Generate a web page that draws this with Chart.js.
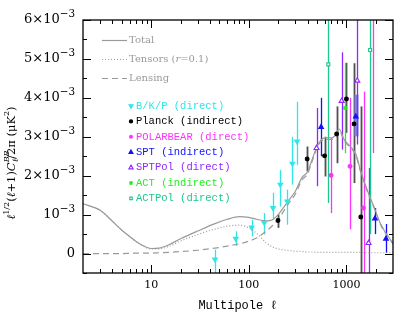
<!DOCTYPE html>
<html>
<head>
<meta charset="utf-8">
<script src="https://cdn.jsdelivr.net/npm/chart.js@4.4.1/dist/chart.umd.min.js"></script>
<style>
  html, body { margin: 0; padding: 0; background: #fff; }
  #wrap { width: 415px; height: 324px; position: relative; }
</style>
</head>
<body>
<div id="wrap"><canvas id="bbChart"></canvas></div>
<script>
// All BB power values are in units of 10^-3 muK^2.

// Model spectra.
const modelEll  = [2, 3, 4, 5, 6, 7, 8, 10, 12, 15, 20, 30, 45, 60, 80, 100, 120, 150, 175, 200, 250, 300, 350, 400, 450, 500, 550, 600, 700, 760, 840, 950, 1100, 1250, 1400, 1650, 1900, 2250, 3000];
const totalBB   = [1.28, 1.11, 0.83, 0.60, 0.44, 0.31, 0.22, 0.13, 0.14, 0.22, 0.38, 0.58, 0.77, 0.88, 0.95, 0.93, 0.88, 0.84, 0.87, 1.00, 1.33, 1.60, 1.95, 2.10, 2.45, 2.75, 2.92, 2.97, 2.97, 3.02, 3.20, 2.92, 2.75, 2.55, 2.12, 1.60, 1.22, 0.75, 0.26];
const tensorBB  = [1.28, 1.11, 0.83, 0.60, 0.44, 0.31, 0.21, 0.12, 0.12, 0.18, 0.32, 0.49, 0.63, 0.70, 0.73, 0.66, 0.52, 0.28, 0.17, 0.12, 0.08, 0.06, 0.05, 0.04, 0.04, 0.03, 0.03, 0.03, 0.03, 0.03, 0.03, 0.03, 0.03, 0.03, 0.03, 0.02, 0.02, 0.02, 0.02];
const lensingBB = [0, 0, 0, 0, 0.005, 0.01, 0.01, 0.01, 0.02, 0.03, 0.05, 0.085, 0.14, 0.19, 0.25, 0.32, 0.40, 0.57, 0.72, 0.88, 1.25, 1.53, 1.89, 2.05, 2.40, 2.71, 2.88, 2.93, 2.93, 2.99, 3.17, 2.89, 2.72, 2.52, 2.09, 1.57, 1.20, 0.73, 0.24];

// Measurements: multipole, value, lower and upper end of the error bar.
const bkpEll = [45, 73.5, 107, 144, 177, 210, 247, 279, 312];
const bkpVal = [-0.15, 0.38, 0.67, 0.79, 1.17, 1.77, 1.34, 2.31, 2.88];
const bkpLo  = [-0.55, 0.19, 0.44, 0.49, 0.87, 1.21, 0.74, 1.77, 2.28];
const bkpHi  = [0.10, 0.57, 0.87, 1.04, 1.56, 2.15, 1.64, 3.00, 3.90];

const planckEll = [199, 396, 597, 794, 1000, 1197, 1403];
const planckVal = [0.85, 2.43, 2.51, 3.07, 3.97, 3.33, 0.94];
const planckLo  = [0.66, 2.11, 1.98, 2.32, 3.10, 1.81, -1.0];
const planckHi  = [1.00, 2.75, 3.00, 3.78, 4.90, 4.89, 3.78];

const polarbearEll = [697, 1089, 1496, 1888];
const polarbearVal = [2.01, 2.24, 1.17, 7.0];
const polarbearLo  = [1.04, 0.62, -1.0, 2.58];
const polarbearHi  = [2.97, 4.00, 4.16, 10.0];

const sptEll = [550, 1247, 1958, 2541];
const sptVal = [3.25, 3.52, 0.90, 0.38];
const sptLo  = [2.50, 3.01, 0.50, 0.02];
const sptHi  = [4.00, 4.08, 1.17, 0.76];

const sptpolEll = [494, 893, 1291, 1686];
const sptpolVal = [2.71, 3.92, 4.44, 0.27];
const sptpolLo  = [1.73, 2.67, 2.80, -1.0];
const sptpolHi  = [3.74, 5.17, 7.00, 2.20];

const actEll = [968];
const actVal = [3.74];
const actLo  = [2.58];
const actHi  = [4.89];

const actpolEll = [652, 1749];
const actpolVal = [4.86, 5.23];
const actpolLo  = [1.30, 0.50];
const actpolHi  = [8.0, 8.0];

// Axis ticks
const xMajor = [10, 100, 1000];
const xMinor = [3, 4, 5, 6, 7, 8, 9, 20, 30, 40, 50, 60, 70, 80, 90, 200, 300, 400, 500, 600, 700, 800, 900, 2000];
const yMajor = [0, 1, 2, 3, 4, 5, 6];
const yMinor = [-0.5, 0.5, 1.5, 2.5, 3.5, 4.5, 5.5];

const GREY = '#9a9a9a';

function points(ell, val, lo, hi) {
  return ell.map((l, i) => ({ x: l, y: val[i], lo: lo[i], hi: hi[i] }));
}
function curve(vals) {
  return modelEll.map((l, i) => ({ x: l, y: vals[i] }));
}

const experiments = [
  { label: 'B/K/P (direct)', color: '#2ee6ea', data: points(bkpEll, bkpVal, bkpLo, bkpHi),
    pointStyle: 'triangle', rotation: 180, radius: 2.7, fill: true },
  { label: 'Planck (indirect)', color: '#000000', barColor: '#505050', barWidth: 1.8,
    data: points(planckEll, planckVal, planckLo, planckHi),
    pointStyle: 'circle', rotation: 0, radius: 1.9, fill: true },
  { label: 'POLARBEAR (direct)', color: '#ff33ff', data: points(polarbearEll, polarbearVal, polarbearLo, polarbearHi),
    pointStyle: 'star', rotation: 0, radius: 2.4, fill: true },
  { label: 'SPT (indirect)', color: '#1010ff', data: points(sptEll, sptVal, sptLo, sptHi),
    pointStyle: 'triangle', rotation: 0, radius: 2.7, fill: true,
    barColors: ['#1010ff', '#8080ee', '#1010ff', '#1010ff'], barWidths: [1.3, 4, 1.3, 1.3] },
  { label: 'SPTPol (direct)', color: '#9326ff', data: points(sptpolEll, sptpolVal, sptpolLo, sptpolHi),
    pointStyle: 'triangle', rotation: 0, radius: 2.9, fill: false },
  { label: 'ACT (indirect)', color: '#22ee22', data: points(actEll, actVal, actLo, actHi),
    pointStyle: 'rect', rotation: 0, radius: 1.8, fill: true },
  { label: 'ACTPol (direct)', color: '#1cc98c', data: points(actpolEll, actpolVal, actpolLo, actpolHi),
    pointStyle: 'rect', rotation: 0, radius: 2.1, fill: false }
];

// Vertical error bars, drawn below the markers and clipped to the plot box.
const errorBars = {
  id: 'errorBars',
  beforeDatasetsDraw(chart) {
    const { ctx, chartArea: a, scales: { x, y } } = chart;
    ctx.save();
    ctx.beginPath();
    ctx.rect(a.left, a.top, a.right - a.left, a.bottom - a.top);
    ctx.clip();
    chart.data.datasets.forEach(ds => {
      if (!ds.errorBars) return;
      ds.data.forEach((p, i) => {
        const px = Math.round(x.getPixelForValue(p.x)) + 0.5;
        ctx.strokeStyle = (ds.barColors && ds.barColors[i]) || ds.barColor || ds.borderColor;
        ctx.lineWidth = (ds.barWidths && ds.barWidths[i]) || ds.barWidth || 1.3;
        ctx.beginPath();
        ctx.moveTo(px, y.getPixelForValue(p.lo));
        ctx.lineTo(px, y.getPixelForValue(p.hi));
        ctx.stroke();
      });
    });
    ctx.restore();
  }
};

// Draw a run of text pieces: n = normal, i = italic, sup / sub.
function pieceFont(p, size, family, supScale) {
  const small = p.k === 'sup' || p.k === 'sub';
  return (p.k === 'i' || p.it ? 'italic ' : '') + (small ? size * supScale : size) + 'px ' + family;
}
function drawRich(ctx, parts, x, y, align, size, family, supScale) {
  supScale = supScale || 0.7;
  let w = 0;
  parts.forEach(p => {
    ctx.font = pieceFont(p, size, family, supScale);
    if (!p.stack) w += ctx.measureText(p.t).width;
  });
  let cx = x;
  if (align === 'center') cx = x - w / 2;
  if (align === 'right') cx = x - w;
  ctx.textBaseline = 'middle';
  ctx.textAlign = 'left';
  parts.forEach(p => {
    ctx.font = pieceFont(p, size, family, supScale);
    let dy = 0;
    if (p.k === 'sup') dy = -size * 0.42;
    if (p.k === 'sub') dy = size * 0.3;
    ctx.fillText(p.t, cx, y + dy);
    if (!p.stack) cx += ctx.measureText(p.t).width;
  });
}

// Frame, inward ticks on all four sides, tick labels, titles and legend.
const axesAndLegend = {
  id: 'axesAndLegend',
  afterDatasetsDraw(chart) {
    const { ctx, chartArea: a, scales: { x, y } } = chart;
    ctx.save();
    ctx.strokeStyle = '#000';
    ctx.lineWidth = 1;
    ctx.beginPath();
    const xt = (v, len) => {
      const px = Math.round(x.getPixelForValue(v)) + 0.5;
      ctx.moveTo(px, a.bottom); ctx.lineTo(px, a.bottom - len);
      ctx.moveTo(px, a.top); ctx.lineTo(px, a.top + len);
    };
    const yt = (v, len) => {
      const py = Math.round(y.getPixelForValue(v)) + 0.5;
      ctx.moveTo(a.left, py); ctx.lineTo(a.left + len, py);
      ctx.moveTo(a.right, py); ctx.lineTo(a.right - len, py);
    };
    xMinor.forEach(v => xt(v, 4));
    xMajor.forEach(v => xt(v, 8));
    yMinor.forEach(v => yt(v, 4));
    yMajor.forEach(v => yt(v, 8));
    ctx.stroke();
    ctx.lineWidth = 1.3;
    ctx.strokeRect(a.left, a.top, a.right - a.left, a.bottom - a.top);

    // tick labels
    ctx.fillStyle = '#000';
    const tickFam = '"DejaVu Serif"';
    xMajor.forEach(v => {
      drawRich(ctx, [{ t: String(v), k: 'n' }], x.getPixelForValue(v), a.bottom + 12, 'center', 11, tickFam);
    });
    yMajor.forEach(v => {
      let parts;
      if (v === 0) parts = [{ t: '0', k: 'n' }];
      else if (v === 1) parts = [{ t: '10', k: 'n' }, { t: '\u22123', k: 'sup' }];
      else parts = [{ t: v + '\u00d710', k: 'n' }, { t: '\u22123', k: 'sup' }];
      drawRich(ctx, parts, a.left - 8, y.getPixelForValue(v), 'right', 13, tickFam, 0.8);
    });

    // axis titles
    drawRich(ctx, [{ t: 'Multipole \u2113', k: 'n' }], (a.left + a.right) / 2, 306, 'center', 12, '"Liberation Mono"');
    ctx.save();
    ctx.translate(12, 163);
    ctx.rotate(-Math.PI / 2);
    drawRich(ctx, [
      { t: '\u2113', k: 'i' }, { t: '1/2', k: 'sup' }, { t: '(', k: 'n' }, { t: '\u2113', k: 'i' },
      { t: '+1)', k: 'n' }, { t: 'C', k: 'i' }, { t: 'BB', k: 'sup', it: true, stack: true },
      { t: '\u2113', k: 'sub', it: true }, { t: '/2\u03c0 (\u03bcK', k: 'n' }, { t: '2', k: 'sup' }, { t: ')', k: 'n' }
    ], 0, 0, 'center', 11.5, '"DejaVu Serif"');
    ctx.restore();

    // legend: model curves
    const lineRows = [
      { parts: [{ t: 'Total', k: 'n' }], dash: [] },
      { parts: [{ t: 'Tensors (', k: 'n' }, { t: 'r', k: 'i' }, { t: '=0.1)', k: 'n' }], dash: [1, 2] },
      { parts: [{ t: 'Lensing', k: 'n' }], dash: [6, 4] }
    ];
    lineRows.forEach((r, i) => {
      const ly = 40 + i * 19;
      ctx.strokeStyle = GREY;
      ctx.lineWidth = 1.2;
      ctx.setLineDash(r.dash);
      ctx.beginPath();
      ctx.moveTo(102, ly + 0.5); ctx.lineTo(127, ly + 0.5);
      ctx.stroke();
      ctx.setLineDash([]);
      ctx.fillStyle = GREY;
      drawRich(ctx, r.parts, 129, ly, 'left', 10, '"DejaVu Serif"');
    });

    // legend: experiments
    experiments.forEach((e, i) => {
      const ly = 106 + i * 15.4;
      ctx.fillStyle = e.fill ? e.color : '#fff';
      ctx.strokeStyle = e.color;
      ctx.lineWidth = 1.1;
      Chart.helpers.drawPoint(ctx, { pointStyle: e.pointStyle, rotation: e.rotation, radius: e.radius * 0.85, borderWidth: 1.1 }, 131, ly);
      ctx.fillStyle = e.color;
      drawRich(ctx, [{ t: e.label, k: 'n' }], 136, ly, 'left', 10.5, '"Liberation Mono"');
    });
    ctx.restore();
  }
};

const datasets = experiments.map(e => ({
  type: 'scatter',
  label: e.label,
  data: e.data,
  errorBars: true,
  barColor: e.barColor,
  barWidth: e.barWidth,
  barColors: e.barColors,
  barWidths: e.barWidths,
  borderColor: e.color,
  backgroundColor: e.fill ? e.color : '#ffffff',
  pointStyle: e.pointStyle,
  rotation: e.rotation,
  pointRadius: e.radius,
  pointBorderWidth: e.pointStyle === 'star' ? 1.6 : 1.1,
  clip: 0
}));
datasets.push(
  { type: 'line', label: 'Total', data: curve(totalBB), borderColor: GREY, borderWidth: 1.2,
    pointRadius: 0, cubicInterpolationMode: 'monotone', clip: 0 },
  { type: 'line', label: 'Tensors', data: curve(tensorBB), borderColor: GREY, borderWidth: 1.2,
    borderDash: [1, 2], pointRadius: 0, cubicInterpolationMode: 'monotone', clip: 0 },
  { type: 'line', label: 'Lensing', data: curve(lensingBB), borderColor: GREY, borderWidth: 1.2,
    borderDash: [6, 4], pointRadius: 0, cubicInterpolationMode: 'monotone', clip: 0 }
);

new Chart(document.getElementById('bbChart'), {
  data: { datasets: datasets },
  options: {
    responsive: true,
    maintainAspectRatio: false,
    animation: false,
    events: [],
    layout: { padding: { top: 20, right: 22, left: 0, bottom: 0 } },
    plugins: { legend: { display: false }, tooltip: { enabled: false } },
    scales: {
      x: {
        type: 'logarithmic', min: 2, max: 3000,
        grid: { display: false }, border: { display: false }, ticks: { display: false },
        afterFit(s) { s.height = 51; }
      },
      y: {
        type: 'linear', min: -0.5, max: 6,
        grid: { display: false }, border: { display: false }, ticks: { display: false },
        afterFit(s) { s.width = 83; }
      }
    }
  },
  plugins: [errorBars, axesAndLegend]
});
</script>
</body>
</html>
